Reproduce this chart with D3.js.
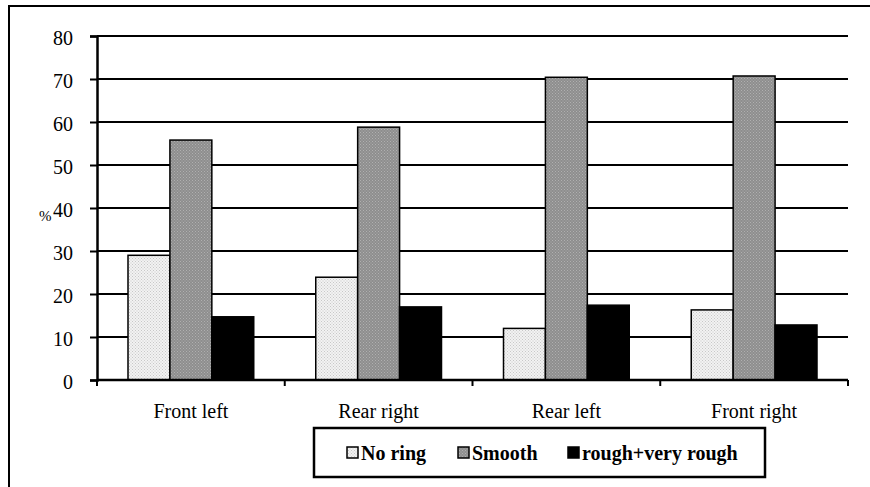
<!DOCTYPE html>
<html><head><meta charset="utf-8">
<script src="https://cdn.jsdelivr.net/npm/d3@7"></script>
<style>body{margin:0;background:#fff}svg{display:block}</style>
</head><body>
<svg id="c" width="870" height="487"></svg>
<script>
const categories = ["Front left", "Rear right", "Rear left", "Front right"];
const seriesNames = ["No ring", "Smooth", "rough+very rough"];
const noRing = [29.0, 23.9, 12.0, 16.3];
const smooth = [55.8, 58.8, 70.4, 70.7];
const rough = [14.7, 17.0, 17.4, 12.8];
const yTicks = [0, 10, 20, 30, 40, 50, 60, 70, 80];

const series = [noRing, smooth, rough];
const svg = d3.select("#c");
const FONT = '"Liberation Serif"';

// patterns
const defs = svg.append("defs");
function pat(id, base, dot) {
  const p = defs.append("pattern").attr("id", id).attr("width", 3).attr("height", 3)
    .attr("patternUnits", "userSpaceOnUse");
  p.append("rect").attr("width", 3).attr("height", 3).attr("fill", base);
  p.append("rect").attr("x", 0).attr("y", 0).attr("width", 1).attr("height", 1).attr("fill", dot);
  p.append("rect").attr("x", 1.5).attr("y", 1.5).attr("width", 1).attr("height", 1).attr("fill", dot);
}
pat("p0", "#f2f2f2", "#c8c8c8");
pat("p1", "#8e8e8e", "#b0b0b0");
const fills = ["url(#p0)", "url(#p1)", "#000"];

// outer frame
svg.append("path").attr("d", "M9,487 V6 H870").attr("fill", "none").attr("stroke", "#000").attr("stroke-width", 2);

const x0 = 97, x1 = 848, yTop = 36, yBot = 380;
const x = d3.scaleBand().domain(categories).range([x0, x1]).paddingInner(0).paddingOuter(0);
const xs = d3.scaleBand().domain(d3.range(3)).range([31, x.bandwidth() - 31]);
const y = d3.scaleLinear().domain([0, 80]).range([yBot, yTop]);

// gridlines
svg.append("g").selectAll("line").data(yTicks.filter(d => d > 0)).join("line")
  .attr("x1", x0).attr("x2", x1).attr("y1", d => y(d)).attr("y2", d => y(d))
  .attr("stroke", "#000").attr("stroke-width", 2);

// bars
categories.forEach((c, i) => {
  series.forEach((s, j) => {
    svg.append("rect")
      .attr("x", x(c) + xs(j)).attr("y", y(s[i]))
      .attr("width", xs.bandwidth()).attr("height", yBot - y(s[i]))
      .attr("fill", fills[j]).attr("stroke", "#000").attr("stroke-width", 1.5);
  });
});

// y axis
const ya = svg.append("g").attr("transform", `translate(${x0},0)`)
  .call(d3.axisLeft(y).tickValues(yTicks).tickSize(7).tickPadding(17));
ya.select(".domain").attr("stroke-width", 2.5);
ya.selectAll(".tick line").attr("stroke-width", 2);
ya.selectAll("text").attr("dy", "0.43em")
  .style("font-family", FONT).style("font-size", "20px").style("fill", "#000");

// x axis
const xa = svg.append("g").attr("transform", `translate(0,${yBot})`)
  .call(d3.axisBottom(x).tickSize(0).tickPadding(24));
xa.select(".domain").remove();
xa.selectAll("text").style("font-family", FONT).style("font-size", "20px").style("fill", "#000");
svg.append("line").attr("x1", x0).attr("x2", x1).attr("y1", yBot).attr("y2", yBot)
  .attr("stroke", "#000").attr("stroke-width", 2.5);
svg.append("g").selectAll("line").data(categories.map(c => x(c)).concat([x1])).join("line")
  .attr("x1", d => d).attr("x2", d => d).attr("y1", yBot).attr("y2", yBot + 6)
  .attr("stroke", "#000").attr("stroke-width", 2);

// % label
svg.append("text").attr("x", 39).attr("y", 221)
  .style("font-family", FONT).style("font-size", "15px").text("%");

// legend
svg.append("rect").attr("x", 314).attr("y", 428).attr("width", 451).attr("height", 49)
  .attr("fill", "#fff").attr("stroke", "#000").attr("stroke-width", 2.5);
const legX = [347, 458, 568];
seriesNames.forEach((n, j) => {
  svg.append("rect").attr("x", legX[j]).attr("y", 447).attr("width", 11).attr("height", 11)
    .attr("fill", fills[j]).attr("stroke", "#000").attr("stroke-width", 1.5);
  svg.append("text").attr("x", legX[j] + 14).attr("y", 460)
    .style("font-family", FONT).style("font-size", "20px").style("font-weight", "bold").text(n);
});
</script>
</body></html>
